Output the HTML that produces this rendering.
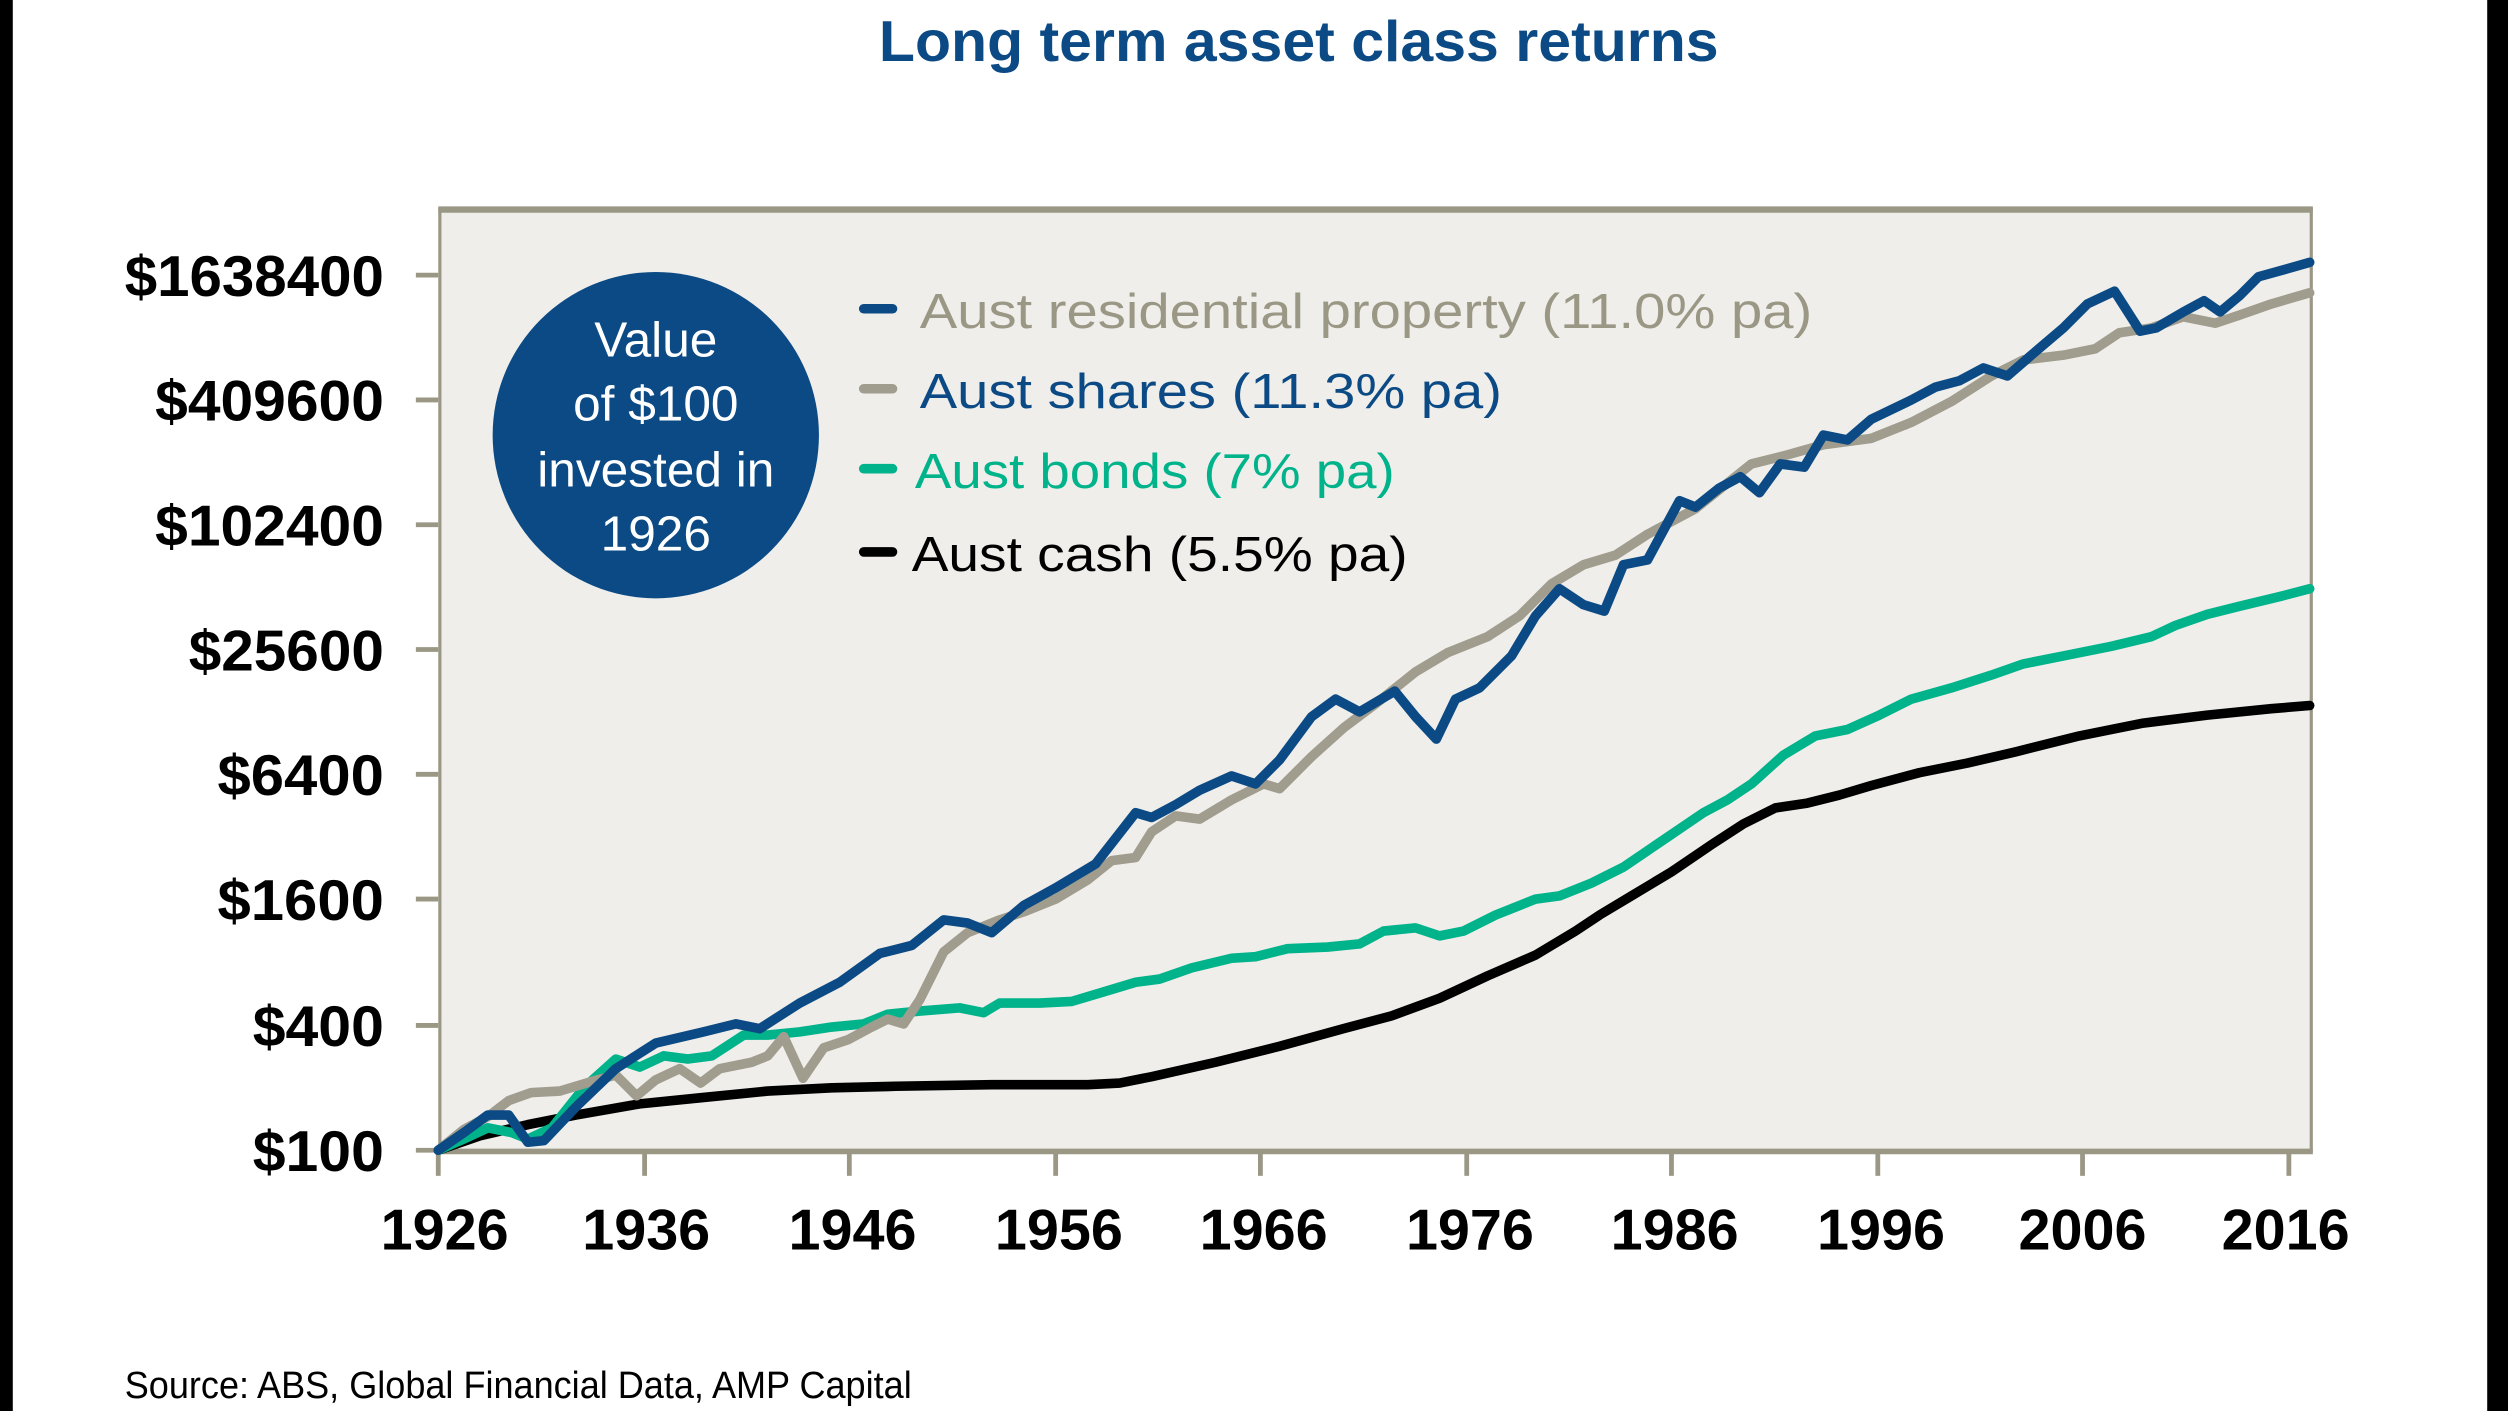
<!DOCTYPE html>
<html><head><meta charset="utf-8"><style>
html,body{margin:0;padding:0;background:#fff;}
svg{display:block;}
</style></head><body>
<svg width="2508" height="1411" viewBox="0 0 1568 882" preserveAspectRatio="none" xmlns="http://www.w3.org/2000/svg">
<rect x="0" y="0" width="1568" height="882" fill="#fff"/>
<rect x="0" y="0" width="8" height="882" fill="#000"/>
<rect x="1555" y="0" width="13" height="882" fill="#000"/>
<text x="812" y="38" text-anchor="middle" font-family="Liberation Sans Narrow, Liberation Sans, sans-serif" font-weight="bold" font-size="36" fill="#0b4a84" textLength="525" lengthAdjust="spacingAndGlyphs">Long term asset class returns</text>
<rect x="275" y="131" width="1170" height="588" fill="#efeeea" stroke="#9a9785" stroke-width="2"/>
<line x1="274" y1="131" x2="1446" y2="131" stroke="#9a9785" stroke-width="4"/>
<line x1="274" y1="720" x2="1446" y2="720" stroke="#9a9785" stroke-width="3"/>
<g stroke="#9a9785" stroke-width="3">
<line x1="260" y1="172" x2="274" y2="172"/><line x1="260" y1="250" x2="274" y2="250"/>
<line x1="260" y1="328" x2="274" y2="328"/><line x1="260" y1="406" x2="274" y2="406"/>
<line x1="260" y1="484" x2="274" y2="484"/><line x1="260" y1="562" x2="274" y2="562"/>
<line x1="260" y1="641" x2="274" y2="641"/><line x1="260" y1="719" x2="274" y2="719"/>
<line x1="274" y1="720" x2="274" y2="735"/><line x1="403" y1="720" x2="403" y2="735"/>
<line x1="531" y1="720" x2="531" y2="735"/><line x1="660" y1="720" x2="660" y2="735"/>
<line x1="788" y1="720" x2="788" y2="735"/><line x1="917" y1="720" x2="917" y2="735"/>
<line x1="1045" y1="720" x2="1045" y2="735"/><line x1="1174" y1="720" x2="1174" y2="735"/>
<line x1="1302" y1="720" x2="1302" y2="735"/><line x1="1431" y1="720" x2="1431" y2="735"/>
</g>
<g font-family="Liberation Sans Narrow, Liberation Sans, sans-serif" font-weight="bold" font-size="36" fill="#000" text-anchor="end">
<text x="240" y="185" textLength="162" lengthAdjust="spacingAndGlyphs">$1638400</text>
<text x="240" y="263" textLength="143" lengthAdjust="spacingAndGlyphs">$409600</text>
<text x="240" y="341" textLength="143" lengthAdjust="spacingAndGlyphs">$102400</text>
<text x="240" y="419" textLength="122" lengthAdjust="spacingAndGlyphs">$25600</text>
<text x="240" y="497" textLength="104" lengthAdjust="spacingAndGlyphs">$6400</text>
<text x="240" y="575" textLength="104" lengthAdjust="spacingAndGlyphs">$1600</text>
<text x="240" y="654" textLength="82" lengthAdjust="spacingAndGlyphs">$400</text>
<text x="240" y="732" textLength="82" lengthAdjust="spacingAndGlyphs">$100</text>
</g>
<g font-family="Liberation Sans Narrow, Liberation Sans, sans-serif" font-weight="bold" font-size="36" fill="#000" text-anchor="middle">
<text x="278" y="781" textLength="80" lengthAdjust="spacingAndGlyphs">1926</text>
<text x="404" y="781" textLength="80" lengthAdjust="spacingAndGlyphs">1936</text>
<text x="533" y="781" textLength="80" lengthAdjust="spacingAndGlyphs">1946</text>
<text x="662" y="781" textLength="80" lengthAdjust="spacingAndGlyphs">1956</text>
<text x="790" y="781" textLength="80" lengthAdjust="spacingAndGlyphs">1966</text>
<text x="919" y="781" textLength="80" lengthAdjust="spacingAndGlyphs">1976</text>
<text x="1047" y="781" textLength="80" lengthAdjust="spacingAndGlyphs">1986</text>
<text x="1176" y="781" textLength="80" lengthAdjust="spacingAndGlyphs">1996</text>
<text x="1302" y="781" textLength="80" lengthAdjust="spacingAndGlyphs">2006</text>
<text x="1429" y="781" textLength="80" lengthAdjust="spacingAndGlyphs">2016</text>
</g>
<g fill="none" stroke-width="6" stroke-linejoin="round" stroke-linecap="round">
<polyline stroke="#000" points="274,719 300,710 330,703 360,697 400,690 440,686 480,682 520,680 560,679 620,678 680,678 700,677 720,673 760,664 800,654 840,643 870,635 900,624 930,610 960,597 985,582 1000,572 1020,560 1045,545 1070,528 1090,515 1110,505 1130,502 1150,497 1170,491 1200,483 1230,477 1260,470 1300,460 1340,452 1380,447 1420,443 1444,441"/>
<polyline stroke="#00b38a" points="274,719 290,712 305,705 320,708 330,712 345,705 365,680 385,662 400,667 415,660 430,662 445,660 465,647 480,647 500,645 520,642 540,640 555,634 575,632 600,630 615,633 625,627 650,627 670,626 690,620 710,614 725,612 745,605 770,599 785,598 805,593 830,592 850,590 865,582 885,580 900,585 915,582 935,572 960,562 975,560 995,552 1015,542 1040,525 1065,508 1080,500 1095,490 1115,472 1135,460 1155,456 1175,447 1195,437 1220,430 1245,422 1265,415 1290,410 1320,404 1345,398 1360,391 1380,384 1400,379 1425,373 1444,368"/>
<polyline stroke="#a09d8e" points="274,719 290,706 305,698 318,688 332,683 350,682 370,676 385,672 398,685 410,675 425,668 438,677 450,668 470,664 480,660 490,648 502,674 515,655 530,650 545,642 555,637 565,640 575,625 590,595 605,583 625,575 640,570 660,562 680,550 695,538 710,536 720,520 735,510 750,512 770,500 790,490 800,493 820,473 840,455 860,440 885,420 905,408 930,398 950,385 970,365 990,353 1010,347 1030,334 1060,318 1080,302 1095,290 1115,285 1140,278 1170,274 1195,264 1220,251 1245,235 1265,225 1290,222 1310,218 1325,208 1345,205 1365,198 1385,202 1400,197 1420,190 1444,183"/>
<polyline stroke="#0b4a84" points="274,719 290,708 305,697 318,697 330,714 340,713 360,692 385,668 410,652 440,645 460,640 475,643 500,627 525,614 550,596 570,591 590,575 605,577 620,583 640,566 660,555 685,540 710,508 720,511 735,503 750,494 770,485 785,490 800,475 820,448 835,437 850,445 872,432 885,448 898,462 910,437 925,430 945,410 960,385 975,368 990,378 1003,382 1015,353 1030,350 1050,313 1060,317 1075,305 1088,298 1100,308 1113,290 1128,292 1140,272 1155,275 1170,262 1195,250 1210,242 1225,238 1240,230 1255,235 1270,222 1290,205 1305,190 1322,182 1338,207 1348,205 1365,195 1378,188 1388,195 1400,185 1412,173 1430,168 1444,164"/>
</g>
<circle cx="410" cy="272" r="102" fill="#0b4a84"/>
<g font-family="Liberation Sans Narrow, Liberation Sans, sans-serif" font-size="31" fill="#fff" text-anchor="middle">
<text x="410" y="223">Value</text>
<text x="410" y="263">of $100</text>
<text x="410" y="304">invested in</text>
<text x="410" y="344">1926</text>
</g>
<g stroke-width="6" stroke-linecap="round">
<line x1="540" y1="193" x2="558" y2="193" stroke="#0b4a84"/>
<line x1="540" y1="243" x2="558" y2="243" stroke="#a09d8e"/>
<line x1="540" y1="293" x2="558" y2="293" stroke="#00b38a"/>
<line x1="540" y1="345" x2="558" y2="345" stroke="#000"/>
</g>
<g font-family="Liberation Sans, sans-serif" font-size="31">
<text x="575" y="205" fill="#9a9785" textLength="558" lengthAdjust="spacingAndGlyphs">Aust residential property (11.0% pa)</text>
<text x="575" y="255" fill="#0b4a84" textLength="364" lengthAdjust="spacingAndGlyphs">Aust shares (11.3% pa)</text>
<text x="572" y="305" fill="#00b38a" textLength="300" lengthAdjust="spacingAndGlyphs">Aust bonds (7% pa)</text>
<text x="570" y="357" fill="#000" textLength="310" lengthAdjust="spacingAndGlyphs">Aust cash (5.5% pa)</text>
</g>
<text x="78" y="874" font-family="Liberation Sans Narrow, Liberation Sans, sans-serif" font-size="24" fill="#000" textLength="492" lengthAdjust="spacingAndGlyphs">Source: ABS, Global Financial Data, AMP Capital</text>
</svg>
</body></html>
